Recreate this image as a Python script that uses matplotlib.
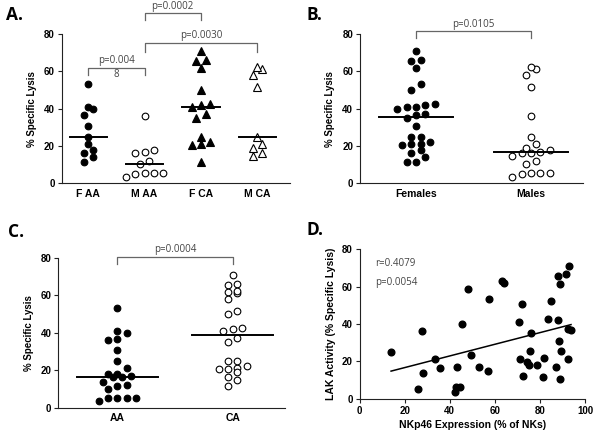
import numpy as np
import matplotlib
matplotlib.use("Agg")
import matplotlib.pyplot as plt

plt.rcParams['font.family'] = ['Liberation Sans', 'DejaVu Sans']

# panel A groups (% specific lysis)
f_aa = [53.2, 41.0, 39.8, 36.6, 30.7, 25.0, 21.0, 17.9, 16.4, 13.9, 11.4]
m_aa = [36.3, 17.9, 16.4, 16.8, 12.1, 10.2, 5.4, 5.4, 3.6, 5.4, 5.0]
f_ca = [71.0, 65.5, 66.0, 61.6, 50.0, 41.8, 42.3, 40.7, 34.8, 37.1, 25.0, 21.0, 20.5, 22.3, 11.6]
m_ca = [61.0, 62.5, 58.0, 51.4, 25.0, 19.1, 20.9, 14.8, 16.4]
groups_a = ['F AA', 'M AA', 'F CA', 'M CA']
groups_b = ['Females', 'Males']
groups_c = ['AA', 'CA']

# panel D: NKp46 expression vs LAK activity
nkp46 = [14.0, 26.1, 27.9, 28.2, 33.5, 35.8, 43.1, 42.4, 42.6, 44.7, 45.3, 48.0, 49.3,
         57.6, 56.8, 53.1, 63.1, 63.9, 72.1, 70.9, 76.1, 71.2, 72.6, 75.6, 74.4, 75.3,
         78.8, 81.8, 81.5, 83.5, 84.8, 87.1, 88.2, 88.3, 89.5, 88.9, 92.3, 88.0, 89.1,
         91.4, 93.0, 92.3, 93.8]
lak = [25.0, 5.2, 36.4, 13.8, 21.1, 16.4, 16.8, 3.4, 6.3, 6.2, 40.0, 58.6, 23.2,
       53.2, 15.0, 16.8, 63.2, 62.1, 50.5, 41.1, 35.4, 21.4, 12.3, 25.4, 19.8, 17.9,
       18.0, 21.6, 11.8, 42.5, 52.1, 16.8, 42.1, 31.1, 25.4, 10.4, 21.1, 65.7, 61.3,
       66.6, 71.2, 37.5, 37.0]

W, H = 601, 440
fig = plt.figure(figsize=(W / 100, H / 100), dpi=100)


def px_axes(left, right, top, bottom):
    return fig.add_axes([left / W, 1 - bottom / H, (right - left) / W, (bottom - top) / H])


def style(ax, xticks=False):
    for s in ['top', 'right']:
        ax.spines[s].set_visible(False)
    for s in ['left', 'bottom']:
        ax.spines[s].set_linewidth(0.8)
        ax.spines[s].set_color('#222222')
    ax.tick_params(axis='y', length=3, width=0.8, color='#222222', labelsize=7, pad=2)
    ax.tick_params(axis='x', length=3 if xticks else 0, width=0.8, color='#222222',
                   labelsize=7.5, pad=4)
    for lab in ax.get_xticklabels() + ax.get_yticklabels():
        lab.set_fontweight('bold')


def swarm(vals, center, spacing, dy):
    vals = np.asarray(vals)
    xs = np.zeros(len(vals))
    rows = []
    for i in np.argsort(vals, kind='stable'):
        if rows and vals[i] - vals[rows[-1][0]] < dy:
            rows[-1].append(i)
        else:
            rows.append([i])
    for row in rows:
        n = len(row)
        for k, i in enumerate(row):
            xs[i] = center + (k - (n - 1) / 2) * spacing
    return xs


def column_plot(ax, data, markers, fills, xlim, spacing_px=9.3, dy=3.6, half=0.33):
    ax.set_xlim(*xlim)
    ax.set_ylim(0, 80)
    ppu = ax.get_position().width * W / (xlim[1] - xlim[0])
    for i, (vals, m, fc) in enumerate(zip(data, markers, fills)):
        xs = swarm(vals, i, spacing_px / ppu, dy)
        ms = 5.6 if m == '^' else 4.8
        ax.plot(xs, vals, ls='none', marker=m, ms=ms, mfc=fc, mec='black', mew=0.8,
                clip_on=False, zorder=3)
        med = np.median(vals)
        ax.plot([i - half, i + half], [med, med], color='black', lw=1.4, zorder=4)
    ax.set_yticks([0, 20, 40, 60, 80])


def bracket(ax, x0, x1, y, drop, text, ty, col='#666666'):
    ax.plot([x0, x0, x1, x1], [y - drop, y, y, y - drop], color=col, lw=0.9, clip_on=False)
    ax.text((x0 + x1) / 2, ty, text, ha='center', va='center', fontsize=7, color='#444444',
            family=['Open Sans', 'DejaVu Sans'])


def panel_label(x, y, s):
    fig.text(x / W, 1 - y / H, s, fontsize=12.5, fontweight='bold', va='center', ha='left',
             family=['Open Sans', 'DejaVu Sans'])


# A
axA = px_axes(61.7, 290, 34, 183.3)
column_plot(axA, [f_aa, m_aa, f_ca, m_ca], ['o', 'o', '^', '^'],
            ['black', 'white', 'black', 'white'], (-0.47, 3.58))
axA.set_xticks(range(4))
axA.set_xticklabels(groups_a)
axA.set_ylabel('% Specific Lysis', fontsize=7, fontweight='bold', labelpad=5)
style(axA)
bracket(axA, 0, 1, 61.9, 3.9, 'p=0.004', 65.8)
axA.text(0.5, 58.4, '8', ha='center', va='center', fontsize=7, color='#444444',
         family=['Open Sans', 'DejaVu Sans'])
bracket(axA, 1, 3, 75.3, 4.8, 'p=0.0030', 79.2)
bracket(axA, 1, 2, 91.0, 3.5, 'p=0.0002', 94.8)
panel_label(6, 15, 'A.')

# B
axB = px_axes(360, 583.3, 34, 183.3)
column_plot(axB, [f_aa + f_ca, m_aa + m_ca], ['o', 'o'], ['black', 'white'],
            (-0.487, 1.455), half=0.325)
axB.set_xticks(range(2))
axB.set_xticklabels(groups_b)
axB.set_ylabel('% Specific Lysis', fontsize=7, fontweight='bold', labelpad=5)
style(axB)
bracket(axB, 0, 1, 81.6, 3.9, 'p=0.0105', 85.0)
panel_label(306, 15, 'B.')

# C
axC = px_axes(58.3, 285, 257.7, 407.7)
column_plot(axC, [f_aa + m_aa, f_ca + m_ca], ['o', 'o'], ['black', 'white'],
            (-0.512, 1.454), half=0.35)
axC.set_xticks(range(2))
axC.set_xticklabels(groups_c)
axC.set_ylabel('% Specific Lysis', fontsize=7, fontweight='bold', labelpad=5)
style(axC)
bracket(axC, 0, 1, 80.5, 4.0, 'p=0.0004', 84.2)
panel_label(8, 232, 'C.')

# D
axD = px_axes(359.5, 585, 249.3, 398.7)
axD.set_xlim(0, 100)
axD.set_ylim(0, 80)
axD.plot(nkp46, lak, ls='none', marker='o', ms=4.8, mfc='black', mec='black',
         clip_on=False, zorder=3)
slope, icpt = np.polyfit(nkp46, lak, 1)
xl = np.array([min(nkp46), max(nkp46)])
axD.plot(xl, slope * xl + icpt, color='black', lw=1.1, zorder=2)
axD.set_xticks([0, 20, 40, 60, 80, 100])
axD.set_yticks([0, 20, 40, 60, 80])
axD.set_xlabel('NKp46 Expression (% of NKs)', fontsize=7.5, fontweight='bold', labelpad=3)
axD.set_ylabel('LAK Activity (% Specific Lysis)', fontsize=7.5, fontweight='bold', labelpad=4)
style(axD, xticks=True)
axD.tick_params(axis='x', labelsize=7, pad=2)
axD.text(7, 72.5, 'r=0.4079', ha='left', va='center', fontsize=7, color='#444444',
         family=['Open Sans', 'DejaVu Sans'])
axD.text(7, 62.2, 'p=0.0054', ha='left', va='center', fontsize=7, color='#444444',
         family=['Open Sans', 'DejaVu Sans'])
panel_label(306, 230, 'D.')

fig.savefig('out.png', dpi=100)
